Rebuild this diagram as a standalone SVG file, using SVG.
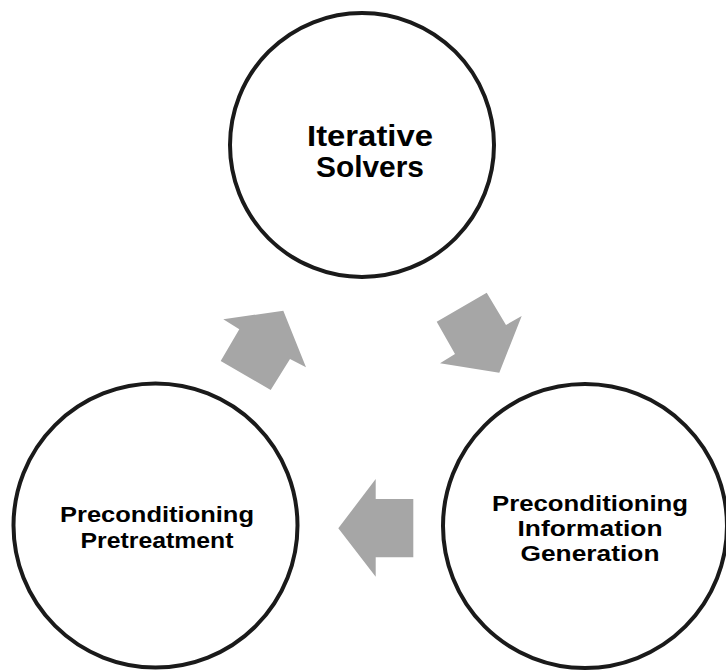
<svg xmlns="http://www.w3.org/2000/svg" width="726" height="670" viewBox="0 0 726 670">
<style>
.node circle{fill:#ffffff;stroke:#1a1a1a;stroke-width:4}
.lbl{font-family:"Liberation Sans",Arial,sans-serif;font-weight:bold;fill:#000000;text-anchor:middle}
.arrow{fill:#a6a6a6;stroke:none}
</style>
<rect width="726" height="670" fill="#ffffff"/>
<g id="connectors">
<polygon class="arrow" points="223.3,319.3 283.3,310.7 306,367.3 290,359 270.7,390 220.7,361 239.3,329.3"/>
<polygon class="arrow" points="436.7,321.7 486.7,292.7 506,325 521.7,316 499.3,372.7 440,363.3 455,354"/>
<polygon class="arrow" points="375.7,479 338.3,528.3 375.7,576.7 375.7,557.3 413.3,557.3 413.3,499 375.7,499"/>
</g>
<g id="iterative-solvers" class="node">
<circle cx="362" cy="145" r="132"/>
<text class="lbl" font-size="29" x="370" y="146" textLength="126" lengthAdjust="spacingAndGlyphs">Iterative</text>
<text class="lbl" font-size="29" x="370" y="177" textLength="108" lengthAdjust="spacingAndGlyphs">Solvers</text>
</g>
<g id="info-generation" class="node">
<circle cx="585" cy="526" r="142"/>
<text class="lbl" font-size="22.5" x="590" y="511" textLength="196" lengthAdjust="spacingAndGlyphs">Preconditioning</text>
<text class="lbl" font-size="22.5" x="590" y="536" textLength="145" lengthAdjust="spacingAndGlyphs">Information</text>
<text class="lbl" font-size="22.5" x="590" y="561" textLength="139" lengthAdjust="spacingAndGlyphs">Generation</text>
</g>
<g id="pretreatment" class="node">
<circle cx="155.5" cy="525.5" r="142"/>
<text class="lbl" font-size="22.5" x="157" y="522" textLength="194" lengthAdjust="spacingAndGlyphs">Preconditioning</text>
<text class="lbl" font-size="22.5" x="157" y="548" textLength="153" lengthAdjust="spacingAndGlyphs">Pretreatment</text>
</g>
</svg>
